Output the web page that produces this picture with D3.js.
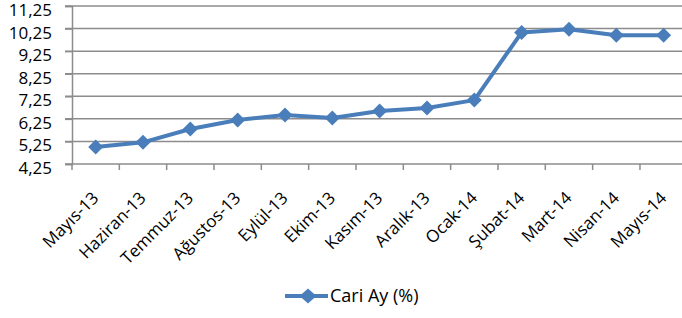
<!DOCTYPE html>
<html><head><meta charset="utf-8">
<script src="https://cdn.jsdelivr.net/npm/d3@7"></script>
<style>body{margin:0;background:#fff}svg{display:block}text{font-family:"Open Sans","Noto Sans",sans-serif;fill:#000}</style>
</head><body>
<script>
const categories=["Mayıs-13","Haziran-13","Temmuz-13","Ağustos-13","Eylül-13","Ekim-13","Kasım-13","Aralık-13","Ocak-14","Şubat-14","Mart-14","Nisan-14","Mayıs-14"];
const values=[5.00,5.21,5.80,6.20,6.42,6.29,6.60,6.73,7.08,10.08,10.22,9.95,9.95];
const yTicks=[4.25,5.25,6.25,7.25,8.25,9.25,10.25,11.25];
const seriesName="Cari Ay (%)";
const W=682,H=318;
const svg=d3.select("body").append("svg").attr("width",W).attr("height",H);
const x=d3.scaleBand().domain(categories).range([72,687.3]);
const y=d3.scaleLinear().domain([4.25,11.25]).range([164,6]);
const grid=svg.append("g");
grid.selectAll("line").data(yTicks).join("line")
 .attr("x1",65).attr("x2",W).attr("y1",d=>y(d)).attr("y2",d=>y(d))
 .attr("stroke","#8c8c8c").attr("stroke-width",1.5);
const yAxis=svg.append("g").attr("transform","translate(72,0)")
 .call(d3.axisLeft(y).tickValues(yTicks).tickFormat(d=>d3.format(".2f")(d).replace(".",",")).tickSize(7).tickPadding(13));
yAxis.select(".domain").attr("stroke","#8c8c8c").attr("stroke-width",1.5);
yAxis.selectAll(".tick line").attr("stroke","#8c8c8c").attr("stroke-width",1.5);
yAxis.selectAll("text").attr("dy","0.32em").attr("y",4).style("font-size","17px");
const xAxis=svg.append("g").attr("transform","translate(0,164)")
 .call(d3.axisBottom(x).tickSize(0).tickPadding(0));
xAxis.select(".domain").remove();
xAxis.selectAll(".tick line").remove();
const bounds=categories.map(c=>x(c)).concat([x(categories[categories.length-1])+x.bandwidth()]);
svg.append("g").selectAll("line").data(bounds).join("line")
 .attr("x1",d=>d).attr("x2",d=>d).attr("y1",164).attr("y2",170)
 .attr("stroke","#8c8c8c").attr("stroke-width",1.5);
xAxis.selectAll(".tick text").attr("text-anchor","end").attr("dy","0").attr("y",0)
 .attr("transform","translate(4,35) rotate(-45)").style("font-size","17px");
const cx=d=>x(d)+x.bandwidth()/2;
const data=categories.map((c,i)=>({c,v:values[i]}));
svg.append("path").datum(data).attr("fill","none").attr("stroke","#4a7ebb").attr("stroke-width",4)
 .attr("stroke-linejoin","round").attr("d",d3.line().x(d=>cx(d.c)).y(d=>y(d.v)));
const dia="M0,-7.5L7.5,0L0,7.5L-7.5,0Z";
svg.append("g").selectAll("path").data(data).join("path").attr("d",dia)
 .attr("transform",d=>`translate(${cx(d.c)},${y(d.v)})`).attr("fill","#4a7ebb");
const lg=svg.append("g");
lg.append("line").attr("x1",285).attr("x2",328).attr("y1",296).attr("y2",296).attr("stroke","#4a7ebb").attr("stroke-width",4);
lg.append("path").attr("d","M0,-7.5L8.5,0L0,7.5L-8.5,0Z").attr("transform","translate(308,296)").attr("fill","#4a7ebb");
lg.append("text").attr("x",330).attr("y",302).style("font-size","18px").text(seriesName);
</script>
</body></html>
